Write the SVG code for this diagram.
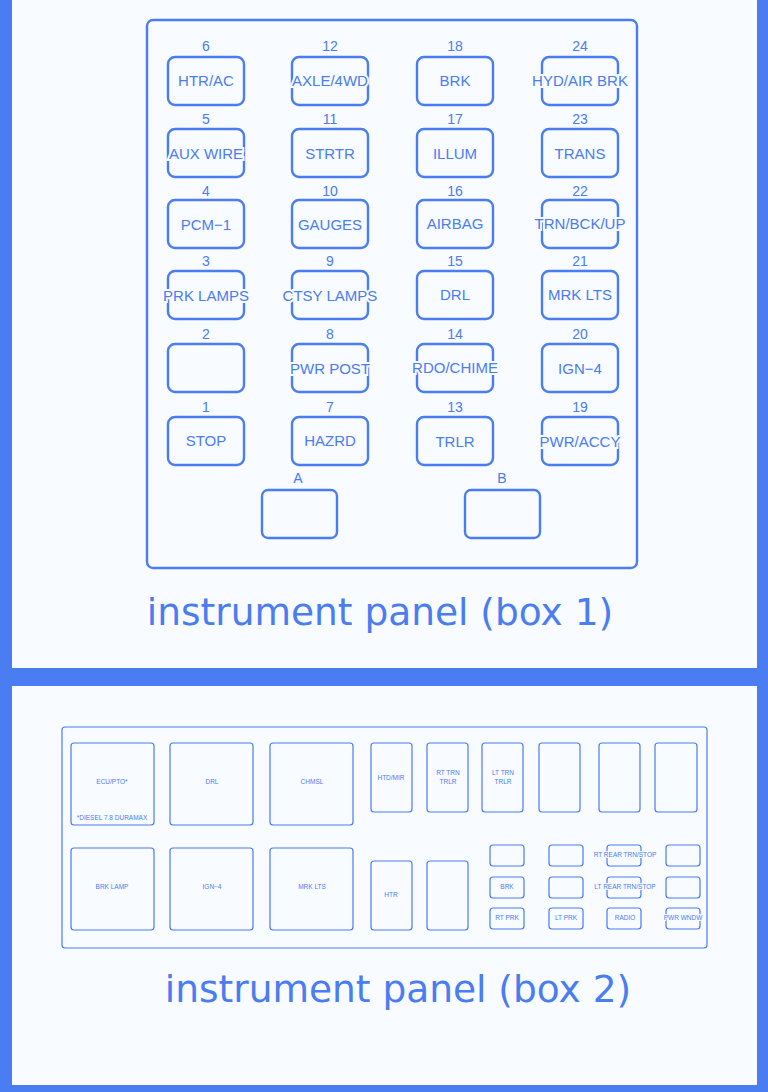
<svg xmlns="http://www.w3.org/2000/svg" width="768" height="1092" viewBox="0 0 768 1092">
<style>
.f{fill:none;stroke:#4a7cf2;stroke-width:2.4}
.t{fill:none;stroke:#4a7cf2;stroke-width:1.2}
text{font-family:"Liberation Sans",Arial,sans-serif;fill:#4a7cf2;text-anchor:middle}
.l{font-size:15px}
.n{font-size:14px}
.s{font-size:6.5px;stroke:#f8fbff;stroke-width:2;paint-order:stroke}
.w{stroke:#f8fbff;stroke-width:4;paint-order:stroke}
.ti{font-family:"DejaVu Sans",sans-serif;font-size:37.5px}
</style>
<rect width="768" height="1092" fill="#4a7cf2"/>
<rect x="12" y="0" width="745" height="668" fill="#f8fbff"/>
<rect x="12" y="686" width="745" height="399" fill="#f8fbff"/>
<rect x="147" y="20" width="490" height="548" rx="6" class="f" stroke-width="2"/>
<g id="fuses1">
<g id="c1">
<text class="n" x="206" y="51">6</text><rect x="168" y="57" width="76" height="48" rx="7" class="f"/><text class="l" x="206" y="86">HTR/AC</text>
<text class="n" x="206" y="124">5</text><rect x="168" y="129" width="76" height="48" rx="7" class="f"/><text class="l w" x="206" y="159">AUX WIRE</text>
<text class="n" x="206" y="196">4</text><rect x="168" y="200" width="76" height="48" rx="7" class="f"/><text class="l" x="206" y="230">PCM−1</text>
<text class="n" x="206" y="266">3</text><rect x="168" y="271" width="76" height="48" rx="7" class="f"/><text class="l w" x="206" y="301">PRK LAMPS</text>
<text class="n" x="206" y="339">2</text><rect x="168" y="344" width="76" height="48" rx="7" class="f"/>
<text class="n" x="206" y="412">1</text><rect x="168" y="417" width="76" height="48" rx="7" class="f"/><text class="l" x="206" y="446">STOP</text>
</g>
<g id="c2">
<text class="n" x="330" y="51">12</text><rect x="292" y="57" width="76" height="48" rx="7" class="f"/><text class="l w" x="330" y="86">AXLE/4WD</text>
<text class="n" x="330" y="124">11</text><rect x="292" y="129" width="76" height="48" rx="7" class="f"/><text class="l" x="330" y="159">STRTR</text>
<text class="n" x="330" y="196">10</text><rect x="292" y="200" width="76" height="48" rx="7" class="f"/><text class="l w" x="330" y="230">GAUGES</text>
<text class="n" x="330" y="266">9</text><rect x="292" y="271" width="76" height="48" rx="7" class="f"/><text class="l w" x="330" y="301">CTSY LAMPS</text>
<text class="n" x="330" y="339">8</text><rect x="292" y="344" width="76" height="48" rx="7" class="f"/><text class="l w" x="330" y="374">PWR POST</text>
<text class="n" x="330" y="412">7</text><rect x="292" y="417" width="76" height="48" rx="7" class="f"/><text class="l" x="330" y="446">HAZRD</text>
</g>
<g id="c3">
<text class="n" x="455" y="51">18</text><rect x="417" y="57" width="76" height="48" rx="7" class="f"/><text class="l" x="455" y="86">BRK</text>
<text class="n" x="455" y="124">17</text><rect x="417" y="129" width="76" height="48" rx="7" class="f"/><text class="l" x="455" y="159">ILLUM</text>
<text class="n" x="455" y="196">16</text><rect x="417" y="200" width="76" height="48" rx="7" class="f"/><text class="l" x="455" y="229">AIRBAG</text>
<text class="n" x="455" y="266">15</text><rect x="417" y="271" width="76" height="48" rx="7" class="f"/><text class="l" x="455" y="300">DRL</text>
<text class="n" x="455" y="339">14</text><rect x="417" y="344" width="76" height="48" rx="7" class="f"/><text class="l w" x="455" y="373">RDO/CHIME</text>
<text class="n" x="455" y="412">13</text><rect x="417" y="417" width="76" height="48" rx="7" class="f"/><text class="l" x="455" y="447">TRLR</text>
</g>
<g id="c4">
<text class="n" x="580" y="51">24</text><rect x="542" y="57" width="76" height="48" rx="7" class="f"/><text class="l w" x="580" y="86">HYD/AIR BRK</text>
<text class="n" x="580" y="124">23</text><rect x="542" y="129" width="76" height="48" rx="7" class="f"/><text class="l" x="580" y="159">TRANS</text>
<text class="n" x="580" y="196">22</text><rect x="542" y="200" width="76" height="48" rx="7" class="f"/><text class="l w" x="580" y="229">TRN/BCK/UP</text>
<text class="n" x="580" y="266">21</text><rect x="542" y="271" width="76" height="48" rx="7" class="f"/><text class="l w" x="580" y="300">MRK LTS</text>
<text class="n" x="580" y="339">20</text><rect x="542" y="344" width="76" height="48" rx="7" class="f"/><text class="l" x="580" y="374">IGN−4</text>
<text class="n" x="580" y="412">19</text><rect x="542" y="417" width="76" height="48" rx="7" class="f"/><text class="l w" x="580" y="447">PWR/ACCY</text>
</g>
<g id="relays1">
<text class="n" x="298" y="483">A</text><rect x="262" y="490" width="75" height="48" rx="6" class="f"/>
<text class="n" x="502" y="483">B</text><rect x="465" y="490" width="75" height="48" rx="6" class="f"/>
</g>
</g>
<text class="ti" x="380" y="625">instrument panel (box 1)</text>
<g id="box2">
<rect x="62" y="727" width="645" height="221" rx="3" class="t"/>
<rect x="71" y="743" width="83" height="82" rx="3" class="t"/><text class="s" x="112" y="784">ECU/PTO*</text><text class="s" x="112" y="820">*DIESEL 7.8 DURAMAX</text>
<rect x="170" y="743" width="83" height="82" rx="3" class="t"/><text class="s" x="212" y="784">DRL</text>
<rect x="270" y="743" width="83" height="82" rx="3" class="t"/><text class="s" x="312" y="784">CHMSL</text>
<rect x="71" y="848" width="83" height="82" rx="3" class="t"/><text class="s" x="112" y="889">BRK LAMP</text>
<rect x="170" y="848" width="83" height="82" rx="3" class="t"/><text class="s" x="212" y="889">IGN−4</text>
<rect x="270" y="848" width="83" height="82" rx="3" class="t"/><text class="s" x="312" y="889">MRK LTS</text>
<rect x="371" y="743" width="41" height="69" rx="3" class="t"/><text class="s" x="391" y="780">HTD/MIR</text>
<rect x="427" y="743" width="41" height="69" rx="3" class="t"/><text class="s" x="448" y="775">RT TRN</text><text class="s" x="448" y="784">TRLR</text>
<rect x="482" y="743" width="41" height="69" rx="3" class="t"/><text class="s" x="503" y="775">LT TRN</text><text class="s" x="503" y="784">TRLR</text>
<rect x="539" y="743" width="41" height="69" rx="3" class="t"/>
<rect x="599" y="743" width="41" height="69" rx="3" class="t"/>
<rect x="655" y="743" width="42" height="69" rx="3" class="t"/>
<rect x="371" y="861" width="41" height="69" rx="3" class="t"/><text class="s" x="391" y="897">HTR</text>
<rect x="427" y="861" width="41" height="69" rx="3" class="t"/>
<rect x="490" y="845" width="34" height="21" rx="3" class="t"/>
<rect x="490" y="877" width="34" height="21" rx="3" class="t"/><text class="s" x="507" y="889">BRK</text>
<rect x="490" y="908" width="34" height="21" rx="3" class="t"/><text class="s" x="507" y="920">RT PRK</text>
<rect x="549" y="845" width="34" height="21" rx="3" class="t"/>
<rect x="549" y="877" width="34" height="21" rx="3" class="t"/>
<rect x="549" y="908" width="34" height="21" rx="3" class="t"/><text class="s" x="566" y="920">LT PRK</text>
<rect x="607" y="845" width="34" height="21" rx="3" class="t"/><text class="s" x="625" y="857">RT REAR TRN/STOP</text>
<rect x="607" y="877" width="34" height="21" rx="3" class="t"/><text class="s" x="625" y="889">LT REAR TRN/STOP</text>
<rect x="607" y="908" width="34" height="21" rx="3" class="t"/><text class="s" x="625" y="920">RADIO</text>
<rect x="666" y="845" width="34" height="21" rx="3" class="t"/>
<rect x="666" y="877" width="34" height="21" rx="3" class="t"/>
<rect x="666" y="908" width="34" height="21" rx="3" class="t"/><text class="s" x="683" y="920">PWR WNDW</text>
</g>
<text class="ti" x="398" y="1002">instrument panel (box 2)</text>
</svg>
